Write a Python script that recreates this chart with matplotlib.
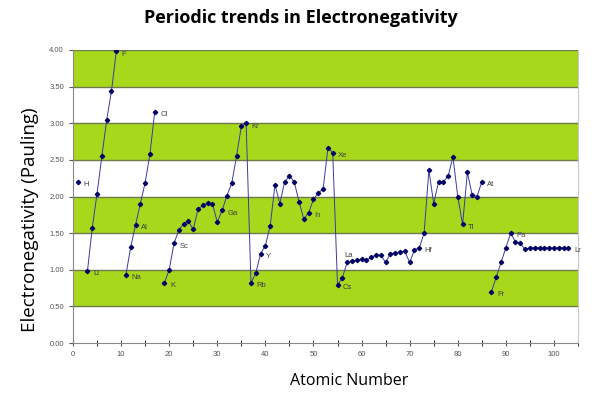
import numpy as np
import matplotlib
matplotlib.use("Agg")
import matplotlib.pyplot as plt

# Pauling electronegativity, Z = 1..103 (nan = not plotted: He, Ne, Ar, Rn)
nan = np.nan
en_values = [
    2.20, nan,
    0.98, 1.57, 2.04, 2.55, 3.04, 3.44, 3.98, nan,
    0.93, 1.31, 1.61, 1.90, 2.19, 2.58, 3.16, nan,
    0.82, 1.00, 1.36, 1.54, 1.63, 1.66, 1.55, 1.83, 1.88, 1.91, 1.90, 1.65,
    1.81, 2.01, 2.18, 2.55, 2.96, 3.00,
    0.82, 0.95, 1.22, 1.33, 1.60, 2.16, 1.90, 2.20, 2.28, 2.20, 1.93, 1.69,
    1.78, 1.96, 2.05, 2.10, 2.66, 2.60,
    0.79, 0.89, 1.10, 1.12, 1.13, 1.14, 1.13, 1.17, 1.20, 1.20, 1.10, 1.22,
    1.23, 1.24, 1.25, 1.10, 1.27, 1.30, 1.50, 2.36, 1.90, 2.20, 2.20, 2.28,
    2.54, 2.00, 1.62, 2.33, 2.02, 2.00, 2.20, nan,
    0.70, 0.90, 1.10, 1.30, 1.50, 1.38, 1.36, 1.28, 1.30, 1.30, 1.30, 1.30,
    1.30, 1.30, 1.30, 1.30, 1.30,
]
atomic_numbers = np.arange(1, len(en_values) + 1)

label_z = [1, 3, 9, 11, 13, 17, 19, 21, 31, 36, 37, 39, 49, 54, 55, 57, 72, 81, 85, 87, 91, 103]
label_txt = ["H", "Li", "F", "Na", "Al", "Cl", "K", "Sc", "Ga", "Kr", "Rb", "Y", "In", "Xe",
             "Cs", "La", "Hf", "Tl", "At", "Fr", "Pa", "Lr"]

band_lo = [0.5, 1.5, 2.5, 3.5]
band_hi = [1.0, 2.0, 3.0, 4.0]
y_ticks = [0.0, 0.5, 1.0, 1.5, 2.0, 2.5, 3.0, 3.5, 4.0]
x_ticks = [0, 10, 20, 30, 40, 50, 60, 70, 80, 90, 100]

fig = plt.figure(figsize=(6, 3.94), dpi=100)
ax = fig.add_axes([73 / 600, 1 - 343 / 394, 505 / 600, 293 / 394])

for lo, hi in zip(band_lo, band_hi):
    ax.axhspan(lo, hi, color="#a8d81c", lw=0, zorder=0)
for y in y_ticks[1:]:
    ax.axhline(y, color="#6f7a4a", lw=1.0, zorder=1)

y = np.array(en_values, dtype=float)
ax.plot(atomic_numbers, y, color="#3a3aa0", lw=0.7, zorder=2)
ax.plot(atomic_numbers, y, ls="none", marker="D", ms=2.2, color="#000066", zorder=3)

for z, t in zip(label_z, label_txt):
    dx, dy = 4, -2
    if t == "La":
        dx, dy = -2, 5
    ax.annotate(t, (z, en_values[z - 1]), xytext=(dx, dy), textcoords="offset points",
                fontsize=5.5, color="#404040", va="center", ha="left",
                family="Liberation Sans", zorder=4)

ax.set_xlim(0, 105)
ax.set_ylim(0, 4)
ax.set_xticks(x_ticks)
ax.set_xticks(np.arange(0, 106, 5), minor=True)
ax.set_yticks(y_ticks)
ax.set_yticklabels(["%.2f" % v for v in y_ticks])
ax.tick_params(axis="both", labelsize=5.5, colors="#555555", length=3, width=0.8)
ax.tick_params(axis="x", which="both", direction="inout", length=4)
ax.tick_params(axis="x", which="minor", length=4)
for lab in ax.get_xticklabels() + ax.get_yticklabels():
    lab.set_family("Liberation Sans")
    lab.set_color("#555555")

ax.spines["top"].set_visible(False)
ax.spines["left"].set_color("#888888")
ax.spines["bottom"].set_color("#888888")
ax.spines["right"].set_color("#c8c8c8")

fig.text(0.502, 0.955, "Periodic trends in Electronegativity", ha="center", va="center",
         fontsize=13, fontweight="bold", family="Open Sans")
fig.text(0.05, 0.442, "Electronegativity (Pauling)", rotation=90, ha="center", va="center",
         fontsize=13.5, family="Open Sans")
fig.text(0.582, 0.033, "Atomic Number", ha="center", va="center",
         fontsize=11.5, family="Open Sans")

fig.savefig("out.png", dpi=100)
